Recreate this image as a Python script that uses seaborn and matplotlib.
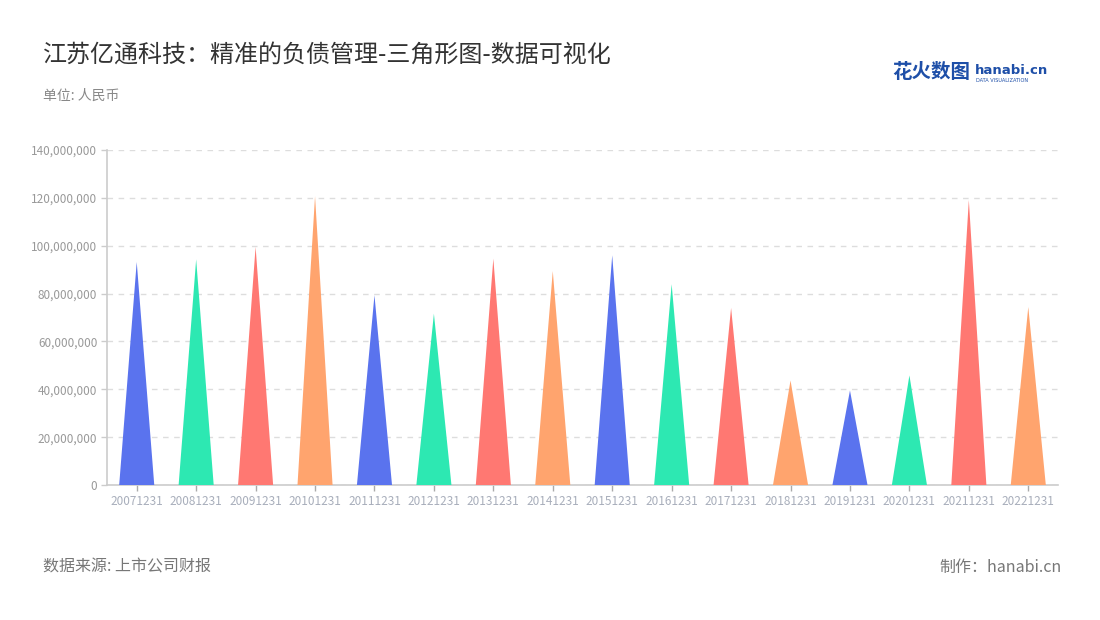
import pandas as pd
import matplotlib.pyplot as plt
import seaborn as sns
from matplotlib.patches import Polygon
from matplotlib.ticker import FuncFormatter, MultipleLocator

sns.set_theme(style='white')
plt.rcParams['font.family'] = ['Noto Sans CJK SC', 'DejaVu Sans']

# Data (CNY)
periods = ['20071231', '20081231', '20091231', '20101231', '20111231', '20121231',
           '20131231', '20141231', '20151231', '20161231', '20171231', '20181231',
           '20191231', '20201231', '20211231', '20221231']
debt = [93.2e6, 94.3e6, 99.5e6, 120.7e6, 79.3e6, 71.6e6,
        94.6e6, 89.4e6, 96.0e6, 83.9e6, 74.0e6, 43.7e6,
        39.5e6, 45.8e6, 119.1e6, 74.4e6]
palette = ['#5A73EE', '#2DE8B2', '#FF7872', '#FFA46E']

df = pd.DataFrame({'period': periods, 'debt': debt})
colors = [palette[i % len(palette)] for i in range(len(periods))]

fig = plt.figure(figsize=(11, 6.2), dpi=100)
ax = fig.add_axes([107 / 1100, 1 - 485 / 620, (1058 - 107) / 1100, (485 - 150) / 620])

# Bars give the categorical geometry; each one is swapped for a triangle
sns.barplot(data=df, x='period', y='debt', hue='period', palette=colors,
            legend=False, width=0.59, ax=ax)
for patch, c in zip(list(ax.patches), colors):
    x0, w, h = patch.get_x(), patch.get_width(), patch.get_height()
    tri = Polygon([(x0, 0), (x0 + w / 2, h), (x0 + w, 0)], closed=True,
                  facecolor=c, edgecolor='none', zorder=3)
    ax.add_patch(tri)
    patch.set_visible(False)

ax.set_ylim(0, 140e6)
ax.set_xlim(-0.5, len(periods) - 0.5)
ax.yaxis.set_major_locator(MultipleLocator(20e6))
ax.yaxis.set_major_formatter(FuncFormatter(lambda v, p: f'{int(v):,}'))
ax.grid(axis='y', color='#DDDDDD', linestyle=(0, (4, 4)), linewidth=1)
ax.set_axisbelow(True)
ax.set_xlabel('')
ax.set_ylabel('')

for s in ['top', 'right']:
    ax.spines[s].set_visible(False)
for s in ['left', 'bottom']:
    ax.spines[s].set_color('#CCCCCC')
    ax.spines[s].set_linewidth(1.2)

ax.tick_params(axis='y', colors='#CCCCCC', labelcolor='#999999', labelsize=8.5,
               length=4, width=1, left=True, pad=3)
ax.tick_params(axis='x', colors='#AAAAAA', labelcolor='#A8AEBB', labelsize=8.5,
               length=4, width=1, bottom=True, pad=3)

# Titles and notes
fig.text(43 / 1100, 1 - 55 / 620, '江苏亿通科技：精准的负债管理-三角形图-数据可视化',
         fontsize=17.3, color='#333333', va='center', ha='left')
fig.text(43 / 1100, 1 - 96 / 620, '单位: 人民币', fontsize=10, color='#888888',
         va='center', ha='left')
fig.text(43 / 1100, 1 - 567 / 620, '数据来源: 上市公司财报', fontsize=11.5, color='#777777',
         va='center', ha='left')
fig.text(1062 / 1100, 1 - 567 / 620, '制作：hanabi.cn', fontsize=11.5, color='#777777',
         va='center', ha='right')

# Logo in the top right corner
fig.text(892 / 1100, 1 - 72 / 620, '花火数图', fontsize=14, color='#1E4FA8',
         fontweight='bold', va='center', ha='left')
fig.text(975 / 1100, 1 - 70 / 620, 'hanabi.cn', fontsize=9.5, color='#1E4FA8',
         fontweight='bold', va='center', ha='left', family=['DejaVu Sans'])
fig.text(976 / 1100, 1 - 80 / 620, 'DATA VISUALIZATION', fontsize=3.6, color='#1E4FA8',
         va='center', ha='left', family=['DejaVu Sans'])

fig.savefig('out.png', dpi=100)
